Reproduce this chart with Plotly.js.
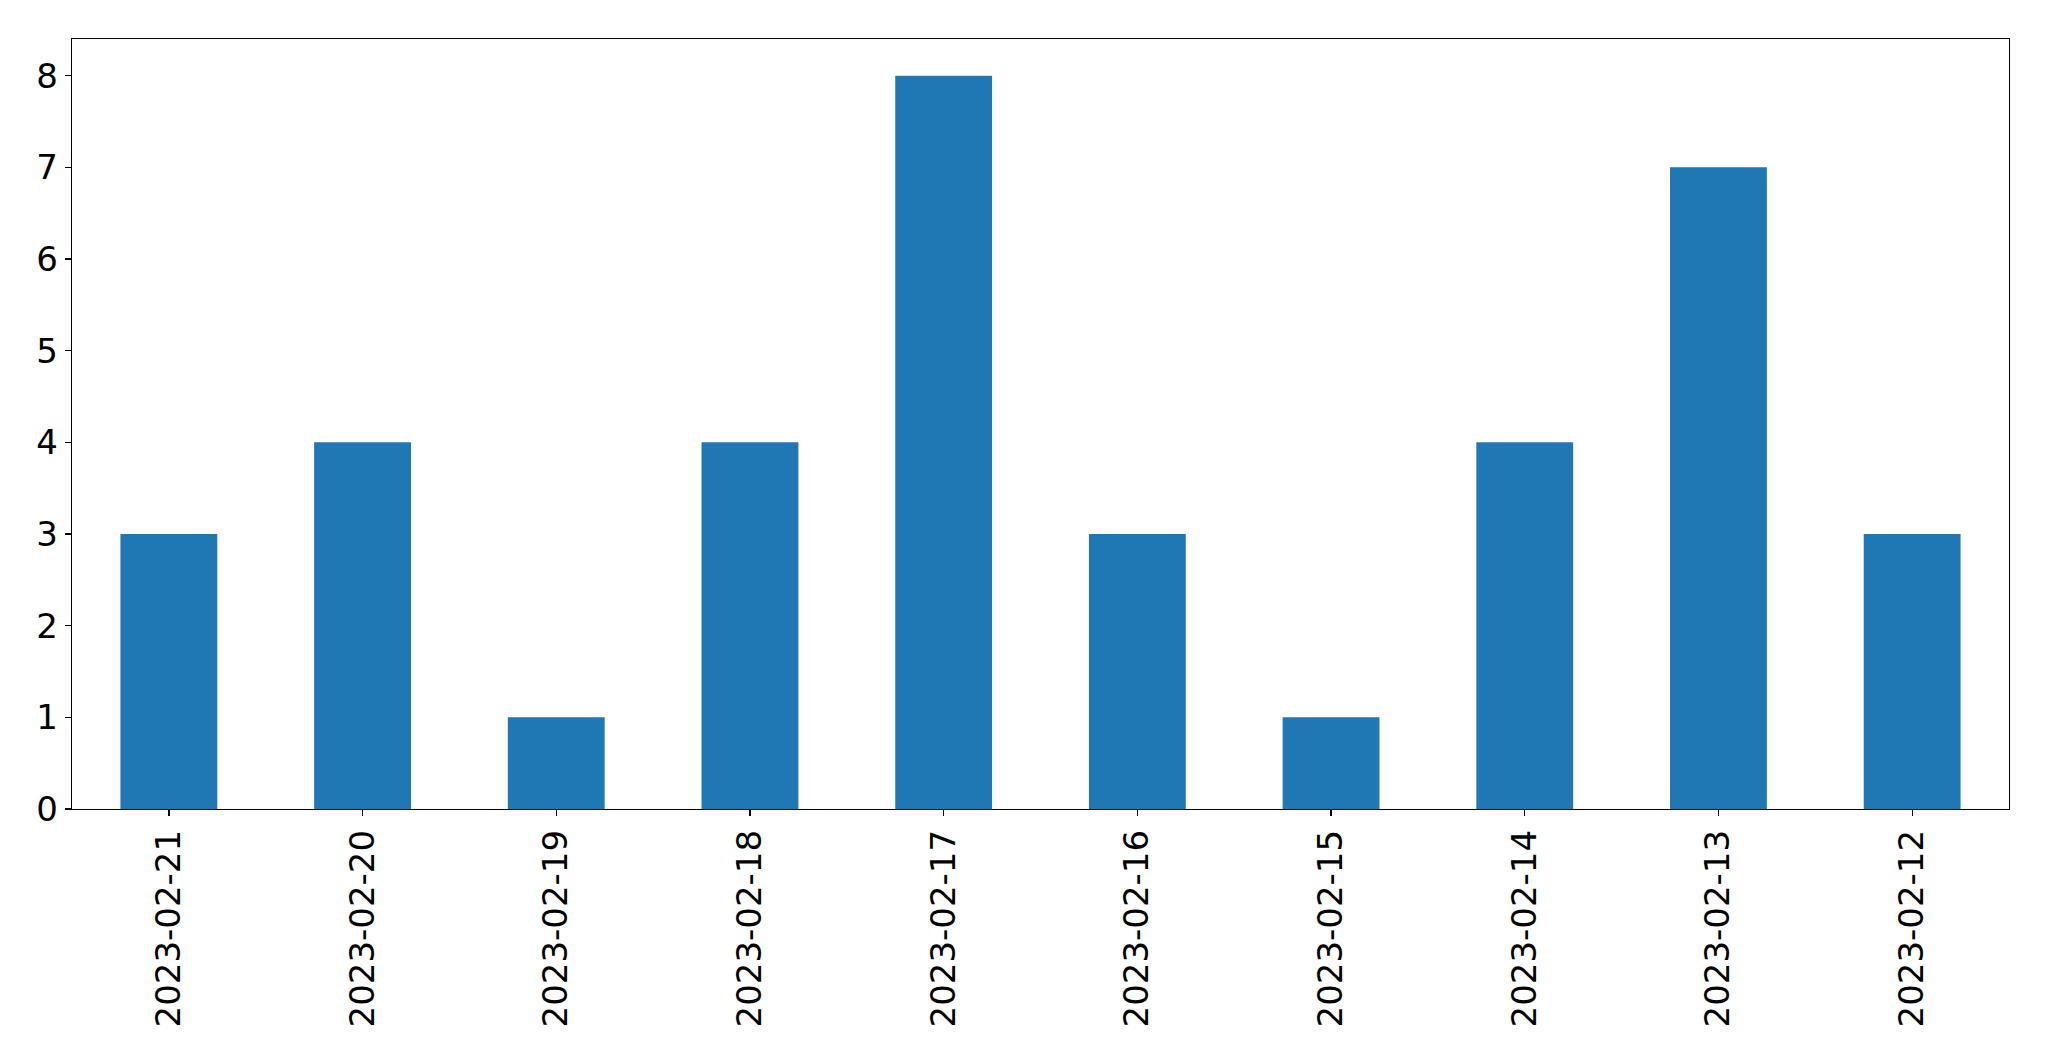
<!DOCTYPE html>
<html>
<head>
<meta charset="utf-8">
<script src="https://cdn.plot.ly/plotly-3.0.1.min.js"></script>
<style>html,body{margin:0;padding:0;background:#fff;}#chart{width:2049px;height:1061px;}</style>
</head>
<body>
<div id="chart"></div>
<script>
const categories = ["2023-02-21","2023-02-20","2023-02-19","2023-02-18","2023-02-17","2023-02-16","2023-02-15","2023-02-14","2023-02-13","2023-02-12"];
const counts = [3, 4, 1, 4, 8, 3, 1, 4, 7, 3];
const yTicks = [0, 1, 2, 3, 4, 5, 6, 7, 8];

const trace = {
  type: 'bar',
  x: categories,
  y: counts,
  width: 0.5,
  marker: {color: '#1f77b4', line: {width: 0}},
  hoverinfo: 'x+y'
};

const axisFont = {family: 'DejaVu Sans', size: 34, color: '#000'};

const layout = {
  width: 2049,
  height: 1061,
  margin: {l: 72, r: 40, t: 39, b: 252, pad: 0},
  paper_bgcolor: '#fff',
  plot_bgcolor: '#fff',
  showlegend: false,
  bargap: 0.5,
  xaxis: {
    type: 'category',
    range: [-0.5, 9.5],
    tickangle: -90,
    tickfont: axisFont,
    ticks: 'outside',
    ticklen: 6,
    tickwidth: 1.3,
    tickcolor: '#000',
    showline: true,
    linecolor: '#000',
    linewidth: 1.3,
    mirror: true,
    showgrid: false,
    zeroline: false,
    automargin: false
  },
  yaxis: {
    range: [0, 8.4],
    tickvals: yTicks,
    ticktext: yTicks.map(String),
    tickfont: axisFont,
    ticks: 'outside',
    ticklen: 6,
    tickwidth: 1.3,
    tickcolor: '#000',
    showline: true,
    linecolor: '#000',
    linewidth: 1.3,
    mirror: true,
    showgrid: false,
    zeroline: false,
    automargin: false
  }
};

Plotly.newPlot('chart', [trace], layout, {displayModeBar: false, staticPlot: true});
</script>
</body>
</html>
